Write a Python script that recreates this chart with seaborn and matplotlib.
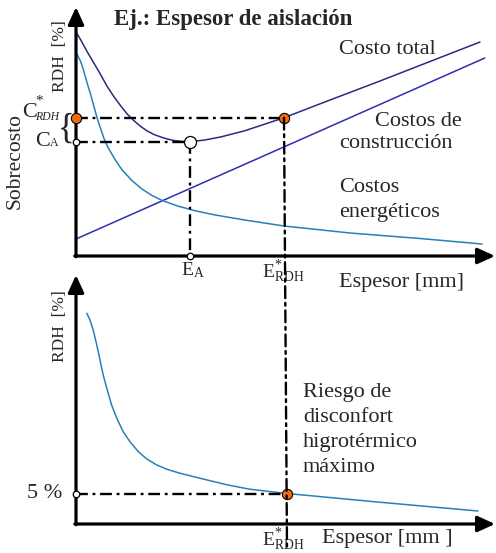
import matplotlib
matplotlib.use('Agg')
import matplotlib.pyplot as plt
from matplotlib.patches import ConnectionPatch
import seaborn as sns

sns.set_style('white')
plt.rcParams['font.family'] = ['Liberation Serif', 'DejaVu Serif']
plt.rcParams['mathtext.fontset'] = 'custom'
plt.rcParams['mathtext.rm'] = 'Liberation Serif'
plt.rcParams['mathtext.it'] = 'Liberation Serif:italic'

# Curves read from the schematic (x: espesor, y: costo / RDH, arbitrary units 0-100)
esp_total = [0, 1.2, 2.8, 4.5, 6.2, 7.8, 9.5, 11.2, 12.8, 14.5, 16.2, 17.8, 19.5, 21.2,
             22.8, 24.5, 26.6, 28.5, 32.2, 36.4, 42.2, 52, 63.5, 76, 88.5, 101]
costo_total = [89.6, 86.4, 81.7, 77.1, 72.4, 67.8, 63.7, 60, 56.8, 54.1, 51.8, 50, 48.6,
               47.6, 46.8, 46.2, 45.8, 45.7, 46.4, 47.7, 50.1, 55.3, 62.4, 70, 77.8, 85.6]

esp_energ = [0, 1.2, 2, 2.8, 3.7, 4.5, 5.3, 6.2, 7, 8, 9.8, 11.4, 13.9, 16.4, 18.9, 21.4,
             25.6, 29.8, 34.8, 42.2, 52, 68.5, 86, 101.5]
costo_energ = [81.5, 77.7, 73.7, 69.1, 64.4, 59.7, 55.1, 50.7, 47, 43.4, 38.5, 34.7, 30.3,
               26.9, 24.3, 22.3, 19.9, 18.1, 16.4, 14.4, 12, 9.2, 7, 4.8]

esp_constr = [0, 102.2]
costo_constr = [6.8, 79.2]

esp_rdh = [2.7, 3.5, 4.3, 5.2, 6, 6.8, 7.7, 8.9, 10.2, 11.8, 13.5, 15.6, 17.7, 20.2, 22.7,
           26, 31, 37.7, 43.5, 52.75, 76, 100.5]
rdh = [84.3, 81.6, 77.6, 71.6, 65.6, 59.6, 54.3, 47.6, 42.3, 36.9, 32.9, 28.9, 26, 23.6,
       21.9, 20.3, 18.3, 15.7, 13.9, 12.2, 8.7, 5.2]

# Key points
e_a, c_a = 28.6, 45.6
e_rdh, c_rdh = 52.0, 55.3
e_rdh_low, rdh_5 = 52.75, 12.2

col_total = '#2c2a80'
col_constr = '#2e2eb4'
col_energ = '#2a80b6'
orange = '#f36a10'
dd = (0, (5, 2, 1.2, 2))

fig = plt.figure(figsize=(4.96, 5.53), dpi=100)
ax1 = fig.add_axes([76 / 496, 297 / 553, 420 / 496, 250 / 553])
ax2 = fig.add_axes([76 / 496, 29 / 553, 420 / 496, 250 / 553])
for ax in (ax1, ax2):
    ax.set_xlim(0, 105)
    ax.set_ylim(0, 100)
    ax.axis('off')
    arrow = dict(arrowstyle='-|>,head_length=0.7,head_width=0.32', lw=2.3, color='k',
                 mutation_scale=15, shrinkA=0, shrinkB=0)
    ax.annotate('', xy=(104.75, 0), xytext=(-0.3, 0), arrowprops=arrow, annotation_clip=False)
    ax.annotate('', xy=(0, 99.6), xytext=(0, -0.3), arrowprops=arrow, annotation_clip=False)

# top panel curves
line_kw = dict(lw=1.1, sort=False, estimator=None, solid_joinstyle='round')
sns.lineplot(x=esp_total, y=costo_total, ax=ax1, color=col_total, **line_kw)
sns.lineplot(x=esp_constr, y=costo_constr, ax=ax1, color=col_constr, **line_kw)
sns.lineplot(x=esp_energ, y=costo_energ, ax=ax1, color=col_energ, **line_kw)

ax1.plot([0, e_rdh], [c_rdh, c_rdh], color='k', lw=1.7, ls=dd, zorder=3)
ax1.plot([0, e_a], [c_a, c_a], color='k', lw=1.7, ls=dd, zorder=3)
ax1.plot([e_a, e_a], [c_a, 0], color='k', lw=1.7, ls=dd, zorder=3)
con = ConnectionPatch(xyA=(e_rdh, c_rdh), coordsA=ax1.transData,
                      xyB=(e_rdh_low, -9), coordsB=ax2.transData,
                      color='k', lw=1.7, ls=dd, zorder=3)
fig.add_artist(con)

sns.scatterplot(x=[0, e_rdh], y=[c_rdh, c_rdh], ax=ax1, color=orange, s=55,
                edgecolor='k', linewidth=0.8, zorder=5, clip_on=False)
sns.scatterplot(x=[e_a], y=[c_a], ax=ax1, color='white', s=75,
                edgecolor='k', linewidth=0.9, zorder=5, clip_on=False)
sns.scatterplot(x=[0, e_a], y=[c_a, 0], ax=ax1, color='white', s=22,
                edgecolor='k', linewidth=0.9, zorder=5, clip_on=False)

# bottom panel
sns.lineplot(x=esp_rdh, y=rdh, ax=ax2, color=col_energ, **line_kw)
ax2.plot([0, e_rdh_low], [rdh_5, rdh_5], color='k', lw=1.7, ls=dd, zorder=3)
sns.scatterplot(x=[e_rdh_low], y=[rdh_5], ax=ax2, color=orange, s=55,
                edgecolor='k', linewidth=0.8, zorder=5, clip_on=False)
sns.scatterplot(x=[0], y=[rdh_5], ax=ax2, color='white', s=22,
                edgecolor='k', linewidth=0.9, zorder=5, clip_on=False)

# texts
fs = 16
ax1.text(9.5, 94.4, 'Ej.: Espesor de aislación', fontsize=16.5, fontweight='bold', va='center')
ax1.text(65.75, 82.8, 'Costo total', fontsize=fs, va='center')
ax1.text(96.5, 53.6, 'Costos de', fontsize=fs, va='center', ha='right')
ax1.text(65.75, 45.2, 'construcción', fontsize=fs, va='center')
ax1.text(65.75, 27.6, 'Costos', fontsize=fs, va='center')
ax1.text(65.75, 17.2, 'energéticos', fontsize=fs, va='center')
ax1.text(65.75, -10.8, 'Espesor [mm]', fontsize=fs, va='center')
ax1.text(-4, 80, 'RDH  [%]', fontsize=12.5, rotation=90, ha='center', va='center')
ax1.text(-15.3, 38, 'Sobrecosto', fontsize=15.5, rotation=90, ha='center', va='center')
# C*_RDH and C_A labels with the brace
ax1.text(-11.5, 57.4, 'C', fontsize=16, ha='center', va='center')
ax1.text(-9.2, 62.0, '*', fontsize=11, ha='center', va='center')
ax1.text(-10.2, 55.6, 'RDH', fontsize=8.5, style='italic', ha='left', va='center')
ax1.text(-8.4, 46.0, 'C', fontsize=16, ha='center', va='center')
ax1.text(-6.5, 45.3, 'A', fontsize=8.5, ha='left', va='center')
ax1.text(-2.5, 50.8, '{', fontsize=25, ha='center', va='center')
ax1.text(29.25, -5.6, r'E$_{\mathrm{A}}$', fontsize=14, ha='center', va='center')
ax1.text(51.75, -6.4, r'E$^{*}_{\mathrm{RDH}}$', fontsize=14, ha='center', va='center')

ax2.text(-4, 79.2, 'RDH  [%]', fontsize=12.5, rotation=90, ha='center', va='center')
ax2.text(-3.5, 12.4, '5 %', fontsize=fs, ha='right', va='center')
for txt, yy in zip(['Riesgo de', 'disconfort', 'higrotérmico', 'máximo'],
                   [52.8, 42.8, 32.4, 22.4]):
    ax2.text(56.75, yy, txt, fontsize=fs, va='center')
ax2.text(51.75, -6.4, r'E$^{*}_{\mathrm{RDH}}$', fontsize=14, ha='center', va='center')
ax2.text(61.5, -5.6, 'Espesor [mm ]', fontsize=fs, va='center')

fig.savefig('out.png', dpi=100)
